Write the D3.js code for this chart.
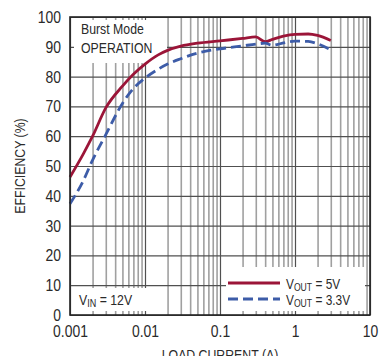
<!DOCTYPE html>
<html>
<head>
<meta charset="utf-8">
<script src="https://cdn.jsdelivr.net/npm/d3@7"></script>
<style>
    body { margin: 0; background: #fff; }
    text { font-family: "Liberation Sans", Arial, sans-serif; fill: #2a2a2a; }
</style>
</head>
<body>
<div id="chart"></div>
<script>
    // load current (A) and efficiency (%)
    const current = [0.001, 0.0015, 0.002, 0.003, 0.005, 0.007, 0.01, 0.015, 0.02, 0.03, 0.05, 0.1, 0.2, 0.3, 0.4, 0.5, 0.7, 1, 1.5, 2, 3];
    const eff5V  = [46.3, 54, 60, 69.5, 76.8, 80.8, 84.2, 87.3, 88.8, 90.2, 91.2, 92, 92.8, 93.3, 91.7, 92.5, 93.6, 94.2, 94.3, 93.8, 92.1];
    const eff33V = [37.3, 45, 52, 60.5, 71, 76, 79.5, 82.5, 84.2, 86, 87.9, 89.3, 90.3, 90.9, 91.2, 90.5, 91.3, 91.9, 91.8, 91, 89];

    const yTicks = [0, 10, 20, 30, 40, 50, 60, 70, 80, 90, 100];
    const xTicks = [0.001, 0.01, 0.1, 1, 10];
    const xTickLabels = ['0.001', '0.01', '0.1', '1', '10'];

    const w = 382, h = 356;
    const margin = {top: 17, right: 12, bottom: 41, left: 70};
    const pw = w - margin.left - margin.right;
    const ph = h - margin.top - margin.bottom;

    const red = '#9b1538', blue = '#3d5ca8';
    const narrow = 'scale(0.82,1)';   // condensed look of the original typeface

    const x = d3.scaleLog().domain([0.001, 10]).range([0, pw]);
    const y = d3.scaleLinear().domain([0, 100]).range([ph, 0]);

    const svg = d3.select('#chart').append('svg')
        .attr('width', w).attr('height', h);
    const g = svg.append('g')
        .attr('transform', 'translate(' + margin.left + ',' + margin.top + ')');

    // minor vertical grid (2..9 in each decade)
    const minor = [];
    xTicks.slice(0, -1).forEach(d => { for (let k = 2; k <= 9; k++) minor.push(d * k); });

    g.append('g')
        .attr('transform', 'translate(0,' + ph + ')')
        .call(d3.axisBottom(x).tickValues(minor).tickSize(-ph).tickFormat(''))
        .call(a => a.select('.domain').remove())
        .call(a => a.selectAll('line').attr('stroke', '#a0a0a0').attr('stroke-width', 1.6));

    g.append('g')
        .attr('transform', 'translate(0,' + ph + ')')
        .call(d3.axisBottom(x).tickValues(xTicks).tickSize(-ph).tickFormat(''))
        .call(a => a.select('.domain').remove())
        .call(a => a.selectAll('line').attr('stroke', '#505050').attr('stroke-width', 1.2));

    g.append('g')
        .call(d3.axisLeft(y).tickValues(yTicks).tickSize(-pw).tickFormat(''))
        .call(a => a.select('.domain').remove())
        .call(a => a.selectAll('line').attr('stroke', '#505050').attr('stroke-width', 1.2));

    // white label boxes covering the grid
    const boxes = [
        [4, 3, 93, 43],     // Burst Mode
        [4, 271, 73, 23],   // VIN
        [156, 250, 139, 44] // legend
    ];
    g.selectAll('rect.box').data(boxes).enter().append('rect')
        .attr('class', 'box')
        .attr('x', d => d[0]).attr('y', d => d[1])
        .attr('width', d => d[2]).attr('height', d => d[3])
        .attr('fill', '#fff');

    // tick labels
    g.append('g')
        .call(d3.axisLeft(y).tickValues(yTicks).tickSize(0).tickPadding(11))
        .call(a => a.select('.domain').remove())
        .call(a => a.selectAll('text').style('font-size', '17px').attr('fill', '#2a2a2a')
            .attr('transform', narrow));

    g.append('g')
        .attr('transform', 'translate(0,' + ph + ')')
        .call(d3.axisBottom(x).tickValues(xTicks).tickSize(0).tickPadding(10)
            .tickFormat((d, i) => xTickLabels[i]))
        .call(a => a.select('.domain').remove())
        .call(a => a.selectAll('text').style('font-size', '17px').attr('fill', '#2a2a2a')
            .attr('transform', narrow));

    // curves
    const line = d3.line()
        .x((d, i) => x(current[i]))
        .y(d => y(d))
        .curve(d3.curveMonotoneX);

    g.append('path').datum(eff5V)
        .attr('d', line).attr('fill', 'none')
        .attr('stroke', red).attr('stroke-width', 2.8);

    g.append('path').datum(eff33V)
        .attr('d', line).attr('fill', 'none')
        .attr('stroke', blue).attr('stroke-width', 2.8)
        .attr('stroke-dasharray', '10,5');

    // frame
    g.append('rect')
        .attr('width', pw).attr('height', ph)
        .attr('fill', 'none').attr('stroke', '#222').attr('stroke-width', 1.6);

    // annotations
    const note = g.append('text').attr('transform', 'translate(11,0) ' + narrow)
        .style('font-size', '15px');
    note.append('tspan').attr('x', 0).attr('y', 17).text('Burst Mode');
    note.append('tspan').attr('x', 0).attr('y', 36).text('OPERATION');

    const vin = g.append('text').attr('transform', 'translate(9,288) ' + narrow)
        .style('font-size', '15px');
    vin.append('tspan').text('V');
    vin.append('tspan').attr('dy', 2).style('font-size', '11px').text('IN');
    vin.append('tspan').attr('dy', -2).text(' = 12V');

    // legend
    const legend = [
        {label: 'OUT', value: ' = 5V', color: red, dash: null},
        {label: 'OUT', value: ' = 3.3V', color: blue, dash: '10,5'}
    ];
    legend.forEach((d, i) => {
        const ly = 266 + i * 16;
        g.append('line')
            .attr('x1', 158).attr('x2', 210).attr('y1', ly).attr('y2', ly)
            .attr('stroke', d.color).attr('stroke-width', 2.8)
            .attr('stroke-dasharray', d.dash);
        const t = g.append('text')
            .attr('transform', 'translate(216,' + (ly + 5.5) + ') ' + narrow)
            .style('font-size', '14.5px');
        t.append('tspan').text('V');
        t.append('tspan').attr('dy', 2).style('font-size', '10.5px').text(d.label);
        t.append('tspan').attr('dy', -2).text(d.value);
    });

    // axis titles
    svg.append('text')
        .attr('transform', 'translate(25,' + (margin.top + ph / 2) + ') rotate(-90) ' + narrow)
        .attr('text-anchor', 'middle')
        .style('font-size', '15px')
        .text('EFFICIENCY (%)');

    svg.append('text')
        .attr('transform', 'translate(' + (margin.left + pw / 2) + ',360) ' + narrow)
        .attr('text-anchor', 'middle')
        .style('font-size', '15px')
        .text('LOAD CURRENT (A)');
</script>
</body>
</html>
